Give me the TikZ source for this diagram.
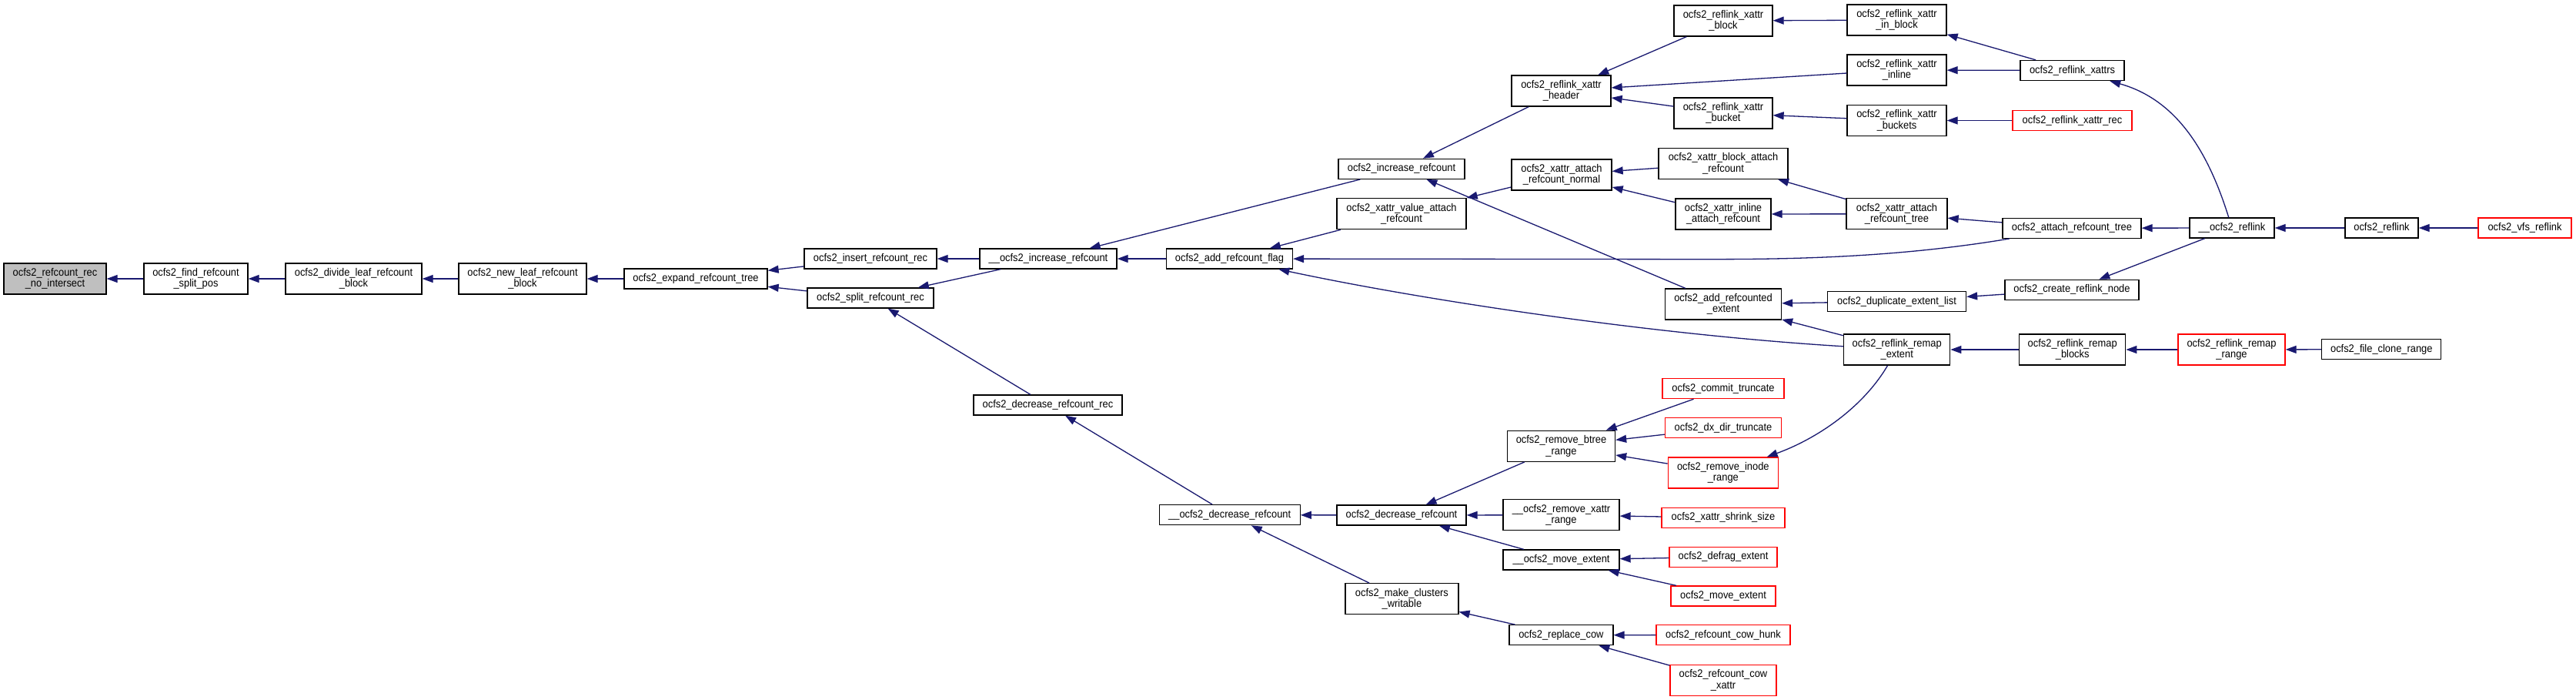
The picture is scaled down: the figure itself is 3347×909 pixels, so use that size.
\documentclass[tikz,border=0pt]{standalone}
\usepackage{fontspec}
\setmainfont{Liberation Sans}[FakeStretch=0.92]
\usetikzlibrary{arrows.meta}
\definecolor{edgeblue}{HTML}{191970}
\definecolor{nodered}{HTML}{FF0000}
\definecolor{nodegrey}{HTML}{BFBFBF}
\tikzset{
  box/.style={draw=black, line width=1.3pt, fill=white, inner sep=0pt, align=center, text=black},
  redbox/.style={box, draw=nodered},
  greybox/.style={box, fill=nodegrey},
  sz/.style 2 args={minimum width=#1pt, minimum height=#2pt},
  callarrow/.style={draw=edgeblue, line width=1.3pt, -{Triangle[length=14pt,width=10pt]}}
}
\begin{document}
\begin{tikzpicture}[x=1pt, y=-1pt, font=\fontsize{14}{14.6}\selectfont]
\fill[white] (0,0) rectangle (3347,909);
\useasboundingbox (0,0) rectangle (3347,909);

% nodes
\node[greybox, sz={133}{40}] (nrec) at (71.5,362) {ocfs2\_refcount\_rec\\\_no\_intersect};
\node[box, sz={135}{40}] (nsplitpos) at (254.5,362) {ocfs2\_find\_refcount\\\_split\_pos};
\node[box, sz={177}{40}] (ndivide) at (459.5,362) {ocfs2\_divide\_leaf\_refcount\\\_block};
\node[box, sz={166}{40}] (nnewleaf) at (679,362) {ocfs2\_new\_leaf\_refcount\\\_block};
\node[box, sz={186}{26}] (nexpand) at (904,362) {ocfs2\_expand\_refcount\_tree};
\node[box, sz={172}{26}] (ninsert) at (1131,336) {ocfs2\_insert\_refcount\_rec};
\node[box, sz={164}{26}] (nsplit) at (1131,387) {ocfs2\_split\_refcount\_rec};
\node[box, sz={178}{26}] (ninc) at (1362,336) {\_\_ocfs2\_increase\_refcount};
\node[box, sz={193}{26}] (ndecrec) at (1361.5,526) {ocfs2\_decrease\_refcount\_rec};
\node[box, sz={164}{26}] (naddflag) at (1597.5,336) {ocfs2\_add\_refcount\_flag};
\node[box, sz={164}{26}] (nincref) at (1821,219.3) {ocfs2\_increase\_refcount};
\node[box, sz={168}{40}] (nvalattach) at (1821,277.7) {ocfs2\_xattr\_value\_attach\\\_refcount};
\node[box, sz={183}{26}] (ndec) at (1597.7,668.7) {\_\_ocfs2\_decrease\_refcount};
\node[box, sz={168}{26}] (ndecref) at (1821,669) {ocfs2\_decrease\_refcount};
\node[box, sz={147}{40}] (nmake) at (1821.4,777.7) {ocfs2\_make\_clusters\\\_writable};
\node[box, sz={129}{40}] (nheader) at (2028.5,118) {ocfs2\_reflink\_xattr\\\_header};
\node[box, sz={130}{40}] (nnormal) at (2029,227) {ocfs2\_xattr\_attach\\\_refcount\_normal};
\node[box, sz={140}{40}] (nbtree) at (2028.5,579.3) {ocfs2\_remove\_btree\\\_range};
\node[box, sz={151}{40}] (nrmxattr) at (2028.5,668.8) {\_\_ocfs2\_remove\_xattr\\\_range};
\node[box, sz={151}{26}] (nmove) at (2028.5,727) {\_\_ocfs2\_move\_extent};
\node[box, sz={135}{26}] (nreplace) at (2028.4,824.7) {ocfs2\_replace\_cow};
\node[box, sz={128}{40}] (nxblock) at (2239,27) {ocfs2\_reflink\_xattr\\\_block};
\node[box, sz={128}{40}] (nxbucket) at (2239,147) {ocfs2\_reflink\_xattr\\\_bucket};
\node[box, sz={168}{40}] (nblkattach) at (2239,212.3) {ocfs2\_xattr\_block\_attach\\\_refcount};
\node[box, sz={124}{40}] (ninlattach) at (2239,278) {ocfs2\_xattr\_inline\\\_attach\_refcount};
\node[box, sz={151}{40}] (naddext) at (2239,395) {ocfs2\_add\_refcounted\\\_extent};
\node[redbox, sz={158}{26}] (ncommit) at (2239,504.6) {ocfs2\_commit\_truncate};
\node[redbox, sz={151}{26}] (ndxdir) at (2239,555.6) {ocfs2\_dx\_dir\_truncate};
\node[redbox, sz={143}{40}] (nrminode) at (2238.8,614) {ocfs2\_remove\_inode\\\_range};
\node[redbox, sz={160}{26}] (nshrink) at (2239,672.3) {ocfs2\_xattr\_shrink\_size};
\node[redbox, sz={140}{26}] (ndefrag) at (2239,723.3) {ocfs2\_defrag\_extent};
\node[redbox, sz={136}{26}] (nmoveext) at (2239,774) {ocfs2\_move\_extent};
\node[redbox, sz={174}{26}] (ncowhunk) at (2239,824.6) {ocfs2\_refcount\_cow\_hunk};
\node[redbox, sz={138}{40}] (ncowxattr) at (2239,883.5) {ocfs2\_refcount\_cow\\\_xattr};
\node[box, sz={129}{40}] (ninblock) at (2464.5,26) {ocfs2\_reflink\_xattr\\\_in\_block};
\node[box, sz={129}{40}] (ninline) at (2464.5,91) {ocfs2\_reflink\_xattr\\\_inline};
\node[box, sz={129}{40}] (nbuckets) at (2464.5,156.5) {ocfs2\_reflink\_xattr\\\_buckets};
\node[box, sz={131}{40}] (ntree) at (2464.5,277.8) {ocfs2\_xattr\_attach\\\_refcount\_tree};
\node[box, sz={180}{26}] (ndup) at (2464.5,391.4) {ocfs2\_duplicate\_extent\_list};
\node[box, sz={138}{40}] (nremapext) at (2464.7,454) {ocfs2\_reflink\_remap\\\_extent};
\node[box, sz={135}{26}] (nxattrs) at (2692.5,91.5) {ocfs2\_reflink\_xattrs};
\node[redbox, sz={155}{26}] (nxrec) at (2692.5,156.5) {ocfs2\_reflink\_xattr\_rec};
\node[box, sz={180}{26}] (nattach) at (2692,296.3) {ocfs2\_attach\_refcount\_tree};
\node[box, sz={174}{26}] (ncreate) at (2692,376.3) {ocfs2\_create\_reflink\_node};
\node[box, sz={138}{40}] (nblocks) at (2692.7,454) {ocfs2\_reflink\_remap\\\_blocks};
\node[box, sz={110}{26}] (nreflinkin) at (2900,296) {\_\_ocfs2\_reflink};
\node[redbox, sz={139}{40}] (nrange) at (2899.5,454) {ocfs2\_reflink\_remap\\\_range};
\node[box, sz={95}{26}] (nreflink) at (3094.5,296) {ocfs2\_reflink};
\node[box, sz={155}{26}] (nclone) at (3094.3,453.7) {ocfs2\_file\_clone\_range};
\node[redbox, sz={121}{26}] (nvfs) at (3280.5,296) {ocfs2\_vfs\_reflink};

% connectors
\draw[callarrow] (nsplitpos) -- (nrec);
\draw[callarrow] (ndivide) -- (nsplitpos);
\draw[callarrow] (nnewleaf) -- (ndivide);
\draw[callarrow] (nexpand) -- (nnewleaf);
\draw[callarrow] (ninsert) -- (nexpand);
\draw[callarrow] (nsplit) -- (nexpand);
\draw[callarrow] (ninc) -- (ninsert);
\draw[callarrow] (ninc) -- (nsplit);
\draw[callarrow] (ndecrec) -- (nsplit);
\draw[callarrow] (nincref) -- (ninc);
\draw[callarrow] (naddflag) -- (ninc);
\draw[callarrow] (ndec) -- (ndecrec);
\draw[callarrow] (ndecref) -- (ndec);
\draw[callarrow] (nmake) -- (ndec);
\draw[callarrow] (nheader) -- (nincref);
\draw[callarrow] (naddext) -- (nincref);
\draw[callarrow] (nvalattach) -- (naddflag);
\draw[callarrow] (nattach) .. controls (2450,337) and (2300,336.7) .. (2200,336.7) -- (naddflag);
\draw[callarrow] (nremapext) .. controls (2150,435) and (1850,390) .. (naddflag);
\draw[callarrow] (nnormal) -- (nvalattach);
\draw[callarrow] (nxblock) -- (nheader);
\draw[callarrow] (ninline) -- (nheader);
\draw[callarrow] (nxbucket) -- (nheader);
\draw[callarrow] (nblkattach) -- (nnormal);
\draw[callarrow] (ninlattach) -- (nnormal);
\draw[callarrow] (ninblock) -- (nxblock);
\draw[callarrow] (nbuckets) -- (nxbucket);
\draw[callarrow] (nxattrs) -- (ninblock);
\draw[callarrow] (nxattrs) -- (ninline);
\draw[callarrow] (nxrec) -- (nbuckets);
\draw[callarrow] (ntree) -- (nblkattach);
\draw[callarrow] (ntree) -- (ninlattach);
\draw[callarrow] (nattach) -- (ntree);
\draw[callarrow] (nreflinkin) -- (nattach);
\draw[callarrow] (nreflinkin) .. controls (2870,200) and (2830,130) .. (nxattrs);
\draw[callarrow] (nreflinkin) -- (ncreate);
\draw[callarrow] (nreflink) -- (nreflinkin);
\draw[callarrow] (nvfs) -- (nreflink);
\draw[callarrow] (ncreate) -- (ndup);
\draw[callarrow] (ndup) -- (naddext);
\draw[callarrow] (nremapext) -- (naddext);
\draw[callarrow] (nblocks) -- (nremapext);
\draw[callarrow] (nrange) -- (nblocks);
\draw[callarrow] (nclone) -- (nrange);
\draw[callarrow] (nremapext) .. controls (2420,530) and (2360,570) .. (nrminode);
\draw[callarrow] (ncommit) -- (nbtree);
\draw[callarrow] (ndxdir) -- (nbtree);
\draw[callarrow] (nrminode) -- (nbtree);
\draw[callarrow] (nbtree) -- (ndecref);
\draw[callarrow] (nrmxattr) -- (ndecref);
\draw[callarrow] (nmove) -- (ndecref);
\draw[callarrow] (nshrink) -- (nrmxattr);
\draw[callarrow] (ndefrag) -- (nmove);
\draw[callarrow] (nmoveext) -- (nmove);
\draw[callarrow] (nreplace) -- (nmake);
\draw[callarrow] (ncowhunk) -- (nreplace);
\draw[callarrow] (ncowxattr) -- (nreplace);
\end{tikzpicture}
\end{document}
